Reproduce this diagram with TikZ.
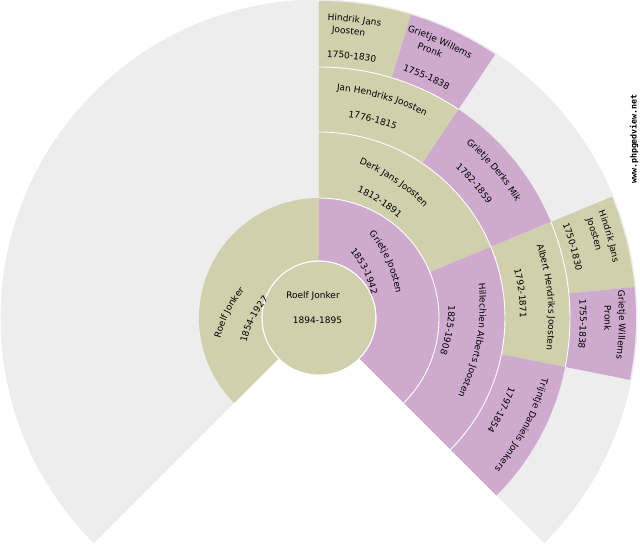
\documentclass[tikz,border=0pt]{standalone}
\usepackage{fontspec}
\setmainfont{DejaVu Sans}
\setmonofont{DejaVu Sans Mono}
\usetikzlibrary{decorations.text}
\definecolor{fanmale}{HTML}{D0D0AC}
\definecolor{fanfemale}{HTML}{CFAACF}
\definecolor{fanempty}{HTML}{EDEDED}
\newcommand{\fansize}{\fontsize{9}{11}\selectfont}
% style, inner radius, outer radius, start angle, end angle
\newcommand{\fansector}[5]{
    \fill [#1] (#4:#2pt) arc [start angle=#4, end angle=#5, radius=#2pt] -- (#5:#3pt) arc [start angle=#5, end angle=#4, radius=#3pt] -- cycle;
    \draw [white, line width=0.9pt] (#4:#2pt) arc [start angle=#4, end angle=#5, radius=#2pt];
}
% centre x, centre y, baseline radius, middle angle, text
\newcommand{\fanbent}[5]{
    \pgfmathsetmacro{\from}{#4+60}
    \pgfmathsetmacro{\to}{#4-60}
    \path [shift={(#1, #2)}, decorate, decoration={text along path, text align=center, text={|\fansize|#5}}] (\from:#3pt) arc [start angle=\from, end angle=\to, radius=#3pt];
}
\newcommand{\fantext}[3]{\fanbent{0}{0}{#1}{#2}{#3}}
\begin{document}
\begin{tikzpicture}[x=1pt, y=1pt]
    \useasboundingbox (-319, -232) rectangle (321, 318);
    \fill [fanempty] (225:57pt) arc [start angle=225, end angle=-45, radius=57pt] -- (-45:318.5pt) arc [start angle=-45, end angle=225, radius=318.5pt] -- cycle;

    % parents
    \fansector{fanmale}{57}{120}{90}{225}
    \fansector{fanfemale}{57}{120}{90}{-45}
    % grandparents
    \fansector{fanmale}{120}{186}{90}{22.5}
    \fansector{fanfemale}{120}{186}{22.5}{-45}
    % great grandparents
    \fansector{fanmale}{186}{251}{90}{56.25}
    \fansector{fanfemale}{186}{251}{56.25}{22.5}
    \fansector{fanmale}{186}{251}{22.5}{-11.25}
    \fansector{fanfemale}{186}{251}{-11.25}{-45}
    % last ring
    \fansector{fanmale}{251}{317}{90}{73.125}
    \fansector{fanfemale}{251}{317}{73.125}{56.25}
    \fansector{fanmale}{251}{317}{22.5}{5.625}
    \fansector{fanfemale}{251}{317}{5.625}{-11.25}

    % root
    \fill [fanmale] (0, 0) circle (56.5pt);
    \draw [white, line width=0.9pt] (225:57pt) arc [start angle=225, end angle=-45, radius=57pt];
    \node [font=\fansize] (rootname) at (-6, 22) {Roelf Jonker};
    \node [font=\fansize] (rootyears) at (-1.5, -2) {1894-1895};

    % inner lines do not follow the rings
    \fanbent{14.8}{-47.2}{116.5}{153.4}{Roelf Jonker}
    \fanbent{21.7}{-45.5}{96.5}{153}{1854-1927}
    \fanbent{-38.7}{8.7}{116.5}{24.2}{Grietje Joosten}
    \fanbent{-42.2}{4}{96.5}{26.1}{1853-1942}

    \fanbent{-34.8}{-27.1}{196.5}{56.1}{Derk Jans Joosten}
    \fanbent{-19.5}{-8.6}{146.5}{57.2}{1812-1891}
    \fanbent{-35.8}{12.6}{196.5}{-10.4}{Hillechien Alberts Joosten}
    \fanbent{-16.9}{14.2}{146.5}{-10.2}{1825-1908}

    \fantext{228}{73.9}{Jan Hendriks Joosten}
    \fantext{203}{74.8}{1776-1815}
    \fantext{228.5}{40.2}{Grietje Derks Mik}
    \fantext{203}{40.9}{1782-1859}
    \fantext{229.5}{5.3}{Albert Hendriks Joosten}
    \fantext{201}{7}{1792-1871}
    \fantext{231}{-27.8}{Trijntje Daniels Jonkers}
    \fantext{202}{-26.8}{1797-1854}

    \fantext{297.5}{83.2}{Hindrik Jans}
    \fantext{285.5}{84.1}{Joosten}
    \fantext{261}{82.9}{1750-1830}
    \fantext{299.5}{66.3}{Grietje Willems}
    \fantext{287}{67.5}{Pronk}
    \fantext{261.5}{66}{1755-1838}

    \fantext{299}{15.7}{Hindrik Jans}
    \fantext{285}{16.9}{Joosten}
    \fantext{261}{15.7}{1750-1830}
    \fantext{300}{-1.3}{Grietje Willems}
    \fantext{285.5}{0}{Pronk}
    \fantext{261}{-1.3}{1755-1838}

    \node [rotate=90, font=\fontsize{8.3}{10}\selectfont\ttfamily\bfseries] (siteurl) at (315, 179) {www.phpgedview.net};
\end{tikzpicture}
\end{document}
